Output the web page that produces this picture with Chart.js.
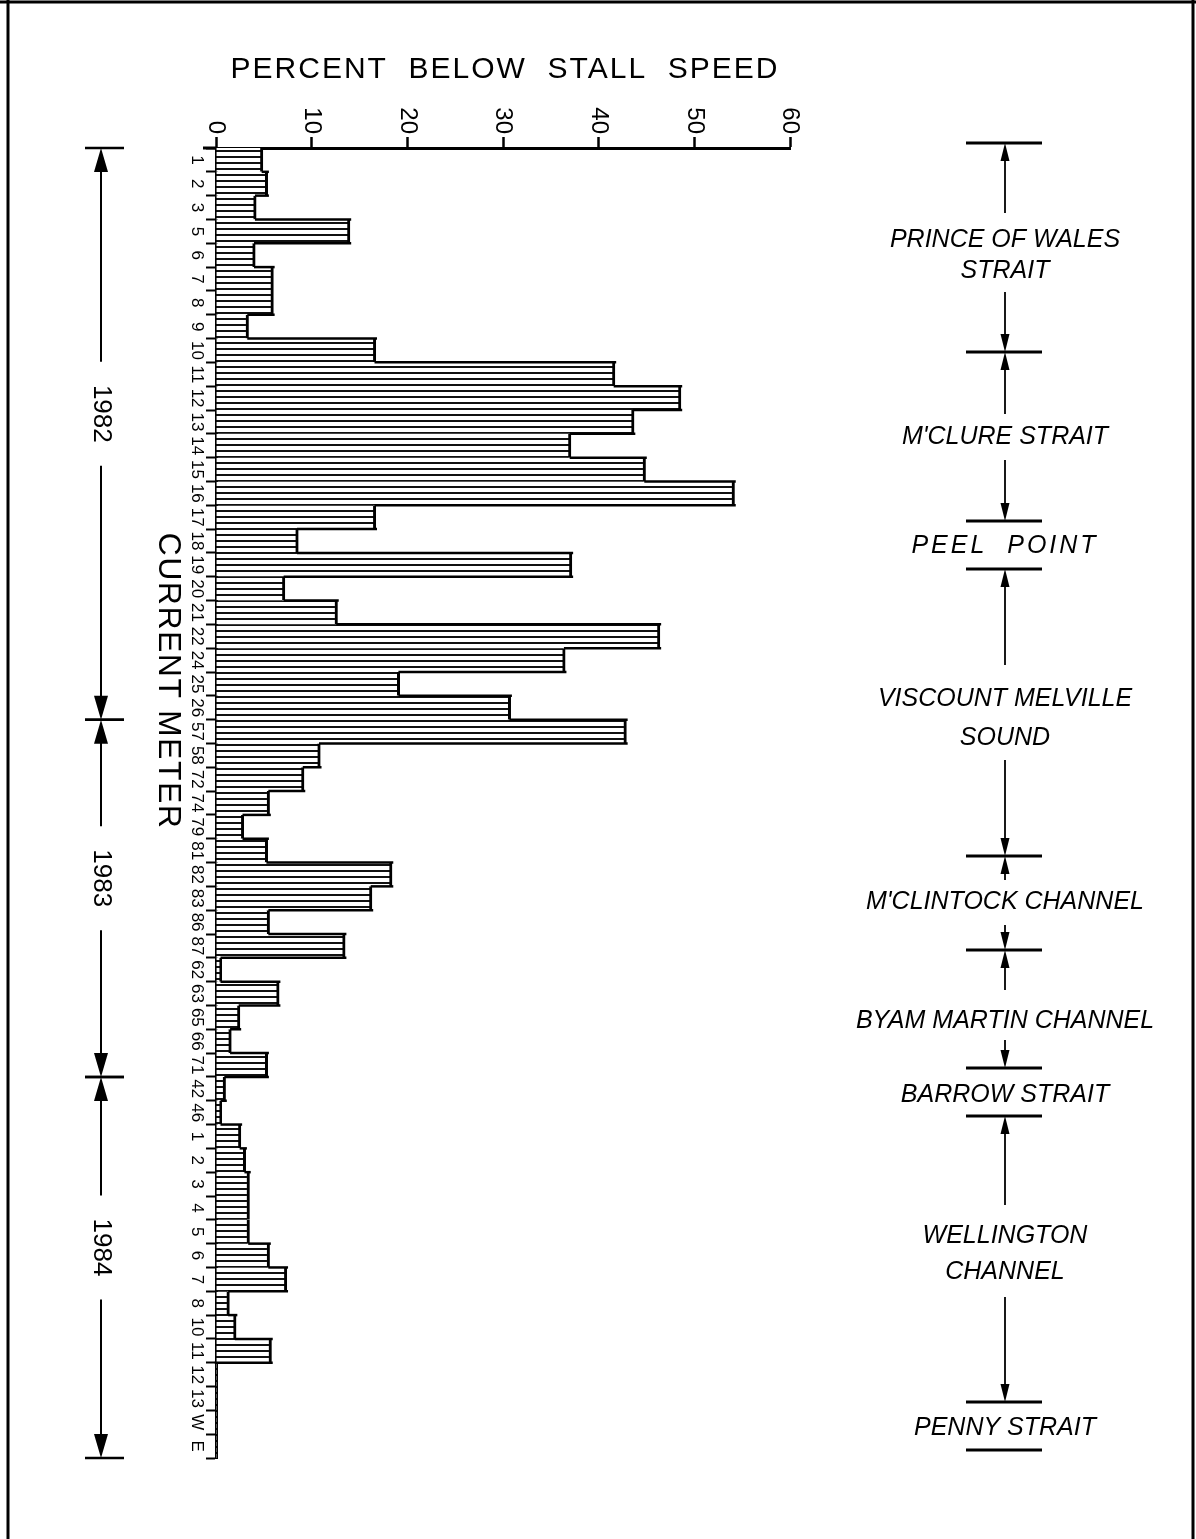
<!DOCTYPE html>
<html>
<head>
<meta charset="utf-8">
<script src="https://cdn.jsdelivr.net/npm/chart.js@4.4.1/dist/chart.umd.min.js"></script>
<style>
  html, body { margin: 0; padding: 0; background: #fff; }
  canvas { display: block; }
</style>
</head>
<body>
<canvas id="myCanvas" width="1196" height="1539"></canvas>
<script>
// current meter ids, top to bottom
const meterLabels = [
  "1", "2", "3", "5", "6", "7", "8", "9", "10", "11", "12", "13", "14", "15", "16", "17",
  "18", "19", "20", "21", "22", "24", "25", "26",
  "57", "58", "72", "74", "79", "81", "82", "83", "86", "87", "62", "63", "65", "66", "71",
  "42", "46", "1", "2", "3", "4", "5", "6", "7", "8", "10", "11", "12", "13", "W", "E"
];

// percent of time below stall speed
const percentBelow = [
  4.9, 5.4, 4.2, 14.0, 4.1, 6.0, 6.0, 3.4, 16.7, 41.7, 48.6, 43.7, 37.1, 44.9, 54.2, 16.7,
  8.6, 37.2, 7.2, 12.7, 46.4, 36.5, 19.2, 30.8,
  42.9, 10.9, 9.2, 5.6, 2.9, 5.4, 18.4, 16.3, 5.6, 13.5, 0.6, 6.6, 2.5, 1.6, 5.4,
  1.0, 0.6, 2.6, 3.1, 3.5, 3.5, 3.5, 5.6, 7.4, 1.4, 2.1, 5.8, 0, 0, 0, 0
];

const valueTicks = [0, 10, 20, 30, 40, 50, 60];

// years and how many meters belong to each
const years = ["1982", "1983", "1984"];
const metersPerYear = [24, 15, 16];

const regionNames = [
  ["PRINCE OF WALES", "STRAIT"],
  ["M'CLURE STRAIT"],
  ["PEEL  POINT"],
  ["VISCOUNT MELVILLE", "SOUND"],
  ["M'CLINTOCK CHANNEL"],
  ["BYAM MARTIN CHANNEL"],
  ["BARROW STRAIT"],
  ["WELLINGTON", "CHANNEL"],
  ["PENNY STRAIT"]
];

const myCanvas = document.getElementById("myCanvas");
const ctx = myCanvas.getContext("2d");

// horizontal hatching for the bars
const hatch = document.createElement("canvas");
hatch.width = 8;
hatch.height = 6;
const hc = hatch.getContext("2d");
hc.fillStyle = "#fff";
hc.fillRect(0, 0, 8, 6);
hc.fillStyle = "#111";
hc.fillRect(0, 0, 8, 2);
const hatchFill = ctx.createPattern(hatch, "repeat");

const FONT = "'Liberation Sans', Arial, sans-serif";

function rotText(c, text, x, y, align) {
  c.save();
  c.translate(x, y);
  c.rotate(Math.PI / 2);
  c.textAlign = align;
  c.textBaseline = "middle";
  c.fillText(text, 0, 0);
  c.restore();
}

function arrowHead(c, x, tipY, dir, len, half) {
  // dir = -1 points up, 1 points down
  c.beginPath();
  c.moveTo(x, tipY);
  c.lineTo(x - half, tipY - dir * len);
  c.lineTo(x + half, tipY - dir * len);
  c.closePath();
  c.fill();
}

function line(c, x1, y1, x2, y2, w) {
  c.lineWidth = w;
  c.beginPath();
  c.moveTo(x1, y1);
  c.lineTo(x2, y2);
  c.stroke();
}

const extras = {
  id: "extras",
  afterDatasetsDraw(chart) {
    // step outline between neighbouring bars
    const c = chart.ctx;
    const bars = chart.getDatasetMeta(0).data;
    c.save();
    c.strokeStyle = "#000";
    c.lineCap = "square";
    for (let i = 0; i < bars.length - 1; i++) {
      const a = bars[i].getProps(["x", "y"], true);
      const b = bars[i + 1].getProps(["x", "y"], true);
      const yb = (a.y + b.y) / 2;
      if (Math.abs(a.x - b.x) > 0.5) {
        line(c, Math.min(a.x, b.x), yb, Math.max(a.x, b.x), yb, 2.5);
      }
    }
    c.restore();
  },
  afterDraw(chart) {
    const c = chart.ctx;
    const xs = chart.scales.x;
    const ys = chart.scales.y;
    const area = chart.chartArea;
    c.save();
    c.fillStyle = "#000";
    c.strokeStyle = "#000";

    // frame
    line(c, 8, 0, 8, 1539, 3);
    line(c, 0, 2, 1196, 2, 3);
    line(c, 1193, 0, 1193, 1539, 3);

    // axis stub left of 0
    line(c, 203, area.top, area.left, area.top, 3);

    // title
    c.font = "30px " + FONT;
    c.letterSpacing = "2px";
    c.textAlign = "center";
    c.textBaseline = "middle";
    c.fillText("PERCENT  BELOW  STALL  SPEED", (area.left + area.right) / 2 + 2, 70);
    c.letterSpacing = "0px";

    // value tick labels, turned
    c.font = "24px " + FONT;
    valueTicks.forEach(v => {
      rotText(c, String(v), xs.getPixelForValue(v), 134, "right");
    });

    // meter labels, turned
    c.font = "17px " + FONT;
    meterLabels.forEach((lab, i) => {
      rotText(c, lab, 197, ys.getPixelForValue(i), "center");
    });

    // axis name
    c.font = "32px " + FONT;
    c.letterSpacing = "1.5px";
    rotText(c, "CURRENT METER", 168, 681, "center");
    c.letterSpacing = "0px";

    // years with arrows
    const slot = ys.getPixelForValue(1) - ys.getPixelForValue(0);
    const edge = k => ys.getPixelForValue(k) - slot / 2;
    let k = 0;
    const ax = 101;
    c.font = "26px " + FONT;
    years.forEach((yr, j) => {
      const y0 = edge(k);
      k += metersPerYear[j];
      const y1 = edge(k);
      const mid = (y0 + y1) / 2 - 20;
      line(c, 85, y0, 124, y0, 2.5);
      line(c, 85, y1, 124, y1, 2.5);
      line(c, ax, y0 + 10, ax, mid - 52, 2);
      line(c, ax, mid + 52, ax, y1 - 10, 2);
      arrowHead(c, ax, y0, -1, 24, 7);
      arrowHead(c, ax, y1, 1, 24, 7);
      rotText(c, yr, ax, mid, "center");
    });

    // regions on the right
    const rx = 1005;
    const regionBars = [143, 352, 521, 569, 856, 950, 1068, 1116, 1402, 1450];
    const regionText = [[240, 271], [437], [546], [699, 738], [902], [1021], [1095], [1236, 1272], [1428]];
    const regionArrows = [[213, 143], [292, 352], [414, 352], [460, 521], [665, 569], [760, 856],
      [880, 856], [925, 950], [990, 950], [1040, 1068], [1205, 1116], [1297, 1402]];
    regionBars.forEach(y => line(c, 966, y, 1042, y, 3));
    regionArrows.forEach(([from, tip]) => {
      const dir = tip > from ? 1 : -1;
      line(c, rx, from, rx, tip - dir * 6, 1.8);
      arrowHead(c, rx, tip, dir, 18, 4.5);
    });
    c.font = "italic 25px " + FONT;
    c.textAlign = "center";
    c.textBaseline = "middle";
    regionNames.forEach((rows, i) => {
      rows.forEach((t, r) => {
        if (t.indexOf("PEEL") === 0) c.letterSpacing = "3px";
        c.fillText(t, rx, regionText[i][r]);
        c.letterSpacing = "0px";
      });
    });
    c.restore();
  }
};

const gChart = new Chart(myCanvas, {
  type: "bar",
  data: {
    labels: meterLabels,
    datasets: [{
      data: percentBelow,
      backgroundColor: hatchFill,
      borderColor: "#000",
      borderWidth: { top: 0, right: 3, bottom: 0, left: 0 },
      borderSkipped: false,
      categoryPercentage: 1,
      barPercentage: 1
    }]
  },
  options: {
    indexAxis: "y",
    responsive: false,
    animation: false,
    devicePixelRatio: 1,
    layout: { padding: { left: 0, top: 0, right: 406, bottom: 81 } },
    plugins: {
      legend: { display: false },
      tooltip: { enabled: false }
    },
    scales: {
      x: {
        position: "top",
        min: 0,
        max: 60,
        ticks: { stepSize: 10, display: false },
        grid: { drawOnChartArea: false, tickLength: 11, tickWidth: 2.5, tickColor: "#000" },
        border: { display: true, color: "#000", width: 3 },
        afterFit: s => { s.height = 148; }
      },
      y: {
        ticks: { display: false, autoSkip: false },
        grid: { offset: true, drawOnChartArea: false, tickLength: 10, tickWidth: 2, tickColor: "#000" },
        border: { display: true, color: "#000", width: 3 },
        afterFit: s => { s.width = 216; }
      }
    }
  },
  plugins: [extras]
});
</script>
</body>
</html>
